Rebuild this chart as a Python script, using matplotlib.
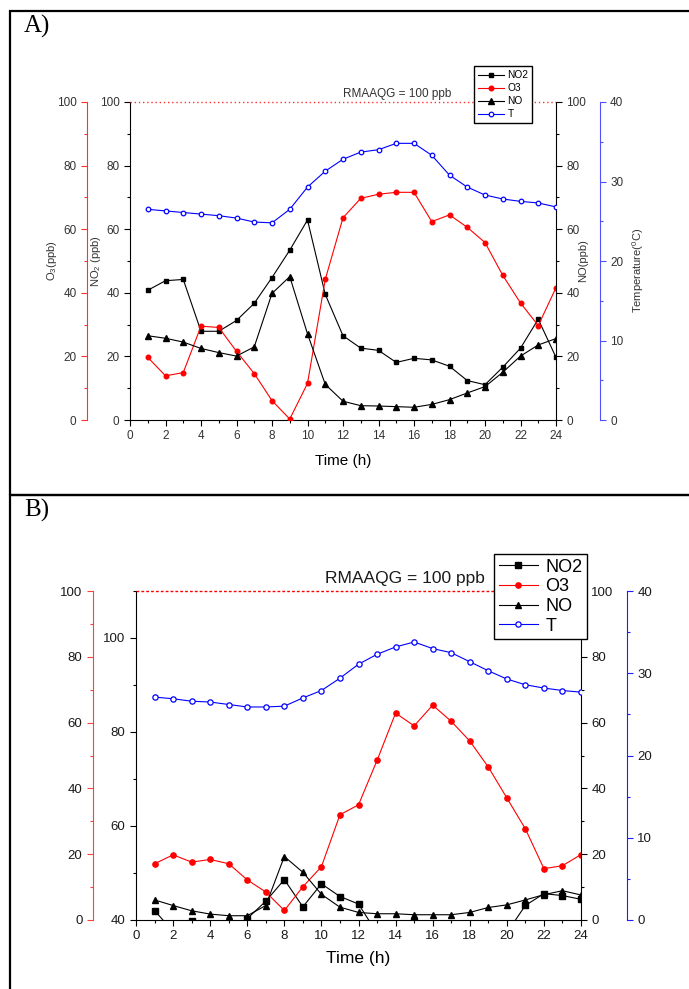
import matplotlib
matplotlib.use("Agg")
import matplotlib.pyplot as plt
from matplotlib.patches import Rectangle
from matplotlib.ticker import MultipleLocator

plt.rcParams['font.family'] = ['Liberation Sans', 'DejaVu Sans']
plt.rcParams['mathtext.default'] = 'regular'

hours = list(range(1, 25))

# panel A (ppb, degC)
no2_a = [40.8, 43.8, 44.2, 27.9, 27.9, 31.3, 36.7, 44.8, 53.4, 62.9, 39.5, 26.5,
         22.6, 21.9, 18.1, 19.4, 18.9, 16.9, 12.4, 11.1, 16.6, 22.6, 31.7, 19.7]
o3_a = [19.7, 13.9, 14.9, 29.5, 29.1, 21.6, 14.6, 6.1, 0.3, 11.5, 44.2, 63.6,
        69.7, 71.0, 71.6, 71.6, 62.4, 64.5, 60.6, 55.8, 45.5, 36.8, 29.7, 41.6]
no_a = [26.5, 25.7, 24.5, 22.5, 21.2, 20.1, 23.0, 39.8, 45.1, 27.1, 11.2, 5.9,
        4.5, 4.4, 4.2, 4.0, 4.9, 6.4, 8.5, 10.5, 15.0, 20.1, 23.6, 25.6]
t_a = [26.5, 26.3, 26.1, 25.9, 25.7, 25.4, 24.9, 24.8, 26.5, 29.3, 31.3, 32.8,
       33.7, 34.0, 34.8, 34.8, 33.3, 30.8, 29.3, 28.3, 27.8, 27.5, 27.3, 26.8]

# panel B
no2_b = [42.0, 37.6, 39.7, 37.0, 36.5, 40.3, 44.0, 48.6, 42.8, 47.7, 45.0, 43.4,
         37.2, 37.0, 39.7, 38.0, 37.5, 37.0, 36.5, 37.3, 43.1, 45.6, 45.2, 44.4]
o3_b = [17.1, 19.8, 17.6, 18.4, 17.1, 12.2, 8.5, 2.9, 10.1, 16.2, 32.0, 35.0,
        48.5, 62.9, 59.0, 65.3, 60.4, 54.4, 46.5, 37.1, 27.7, 15.6, 16.5, 19.9]
no_b = [6.1, 4.4, 2.8, 1.8, 1.3, 1.3, 4.4, 19.3, 14.5, 7.8, 3.9, 2.3,
        1.9, 1.9, 1.6, 1.6, 1.6, 2.3, 3.8, 4.6, 6.1, 7.7, 8.9, 7.6]
t_b = [27.1, 26.9, 26.6, 26.5, 26.2, 25.9, 25.9, 26.0, 27.0, 27.9, 29.4, 31.1,
       32.3, 33.2, 33.8, 33.0, 32.5, 31.4, 30.3, 29.3, 28.6, 28.2, 27.9, 27.7]

series_names = ['NO2', 'O3', 'NO', 'T']
guideline = 'RMAAQG = 100 ppb'

W, H = 689, 989


def px_rect(x0, y0, x1, y1):
    return [x0 / W, 1 - y1 / H, (x1 - x0) / W, (y1 - y0) / H]


def style_y(a, major, minor, color, tcolor, fs):
    a.yaxis.set_major_locator(MultipleLocator(major))
    a.yaxis.set_minor_locator(MultipleLocator(minor))
    a.tick_params(axis='y', which='both', direction='out', colors=color, labelcolor=tcolor,
                  labelsize=fs, width=0.8)
    a.tick_params(axis='y', which='major', length=4)
    a.tick_params(axis='y', which='minor', length=2.5)


def panel(fig, rect, no2, o3, no, t, no2_lim, o3_off, t_off, fs, ms, tcolor, o3_col, t_col):
    ax = fig.add_axes(rect)
    ax_o3 = ax.twinx()
    ax_no = ax.twinx()
    ax_t = ax.twinx()

    ax.set_xlim(0, 24)
    ax.set_ylim(*no2_lim)
    ax_o3.set_ylim(0, 100)
    ax_no.set_ylim(0, 100)
    ax_t.set_ylim(0, 40)

    for a in (ax, ax_o3, ax_no, ax_t):
        for sp in a.spines.values():
            sp.set_visible(False)
    ax.spines['left'].set_visible(True)
    ax.spines['bottom'].set_visible(True)

    ax_o3.yaxis.tick_left()
    ax_o3.yaxis.set_label_position('left')
    ax_o3.spines['left'].set_visible(True)
    ax_o3.spines['left'].set_position(('outward', o3_off))
    ax_o3.spines['left'].set_color(o3_col)

    ax_no.spines['right'].set_visible(True)

    ax_t.spines['right'].set_visible(True)
    ax_t.spines['right'].set_position(('outward', t_off))
    ax_t.spines['right'].set_color(t_col)

    ax.xaxis.set_major_locator(MultipleLocator(2))
    ax.xaxis.set_minor_locator(MultipleLocator(1))
    ax.tick_params(axis='x', which='both', direction='out', labelsize=fs, labelcolor=tcolor, width=0.8)
    ax.tick_params(axis='x', which='major', length=4)
    ax.tick_params(axis='x', which='minor', length=2.5)

    style_y(ax, 20, 10, 'black', tcolor, fs)
    style_y(ax_o3, 20, 10, o3_col, tcolor, fs)
    style_y(ax_no, 20, 10, 'black', tcolor, fs)
    style_y(ax_t, 10, 5, t_col, tcolor, fs)

    l1, = ax.plot(hours, no2, color='black', lw=0.8, marker='s', ms=ms)
    l2, = ax_o3.plot(hours, o3, color='red', lw=0.8, marker='o', ms=ms)
    l3, = ax_no.plot(hours, no, color='black', lw=0.8, marker='^', ms=ms + 0.5)
    l4, = ax_t.plot(hours, t, color='blue', lw=0.8, marker='o', ms=ms, mfc='white', mew=0.9)

    return ax, ax_o3, ax_no, ax_t, [l1, l2, l3, l4]


fig = plt.figure(figsize=(W / 100, H / 100), dpi=100)

# frames around the two panels
fig.add_artist(Rectangle((10 / W, 1 - 495 / H), 1, 484 / H, transform=fig.transFigure,
                         fill=False, lw=1.6, ec='black'))
fig.add_artist(Rectangle((10 / W, -0.05), 1, 0.05 + (1 - 495 / H), transform=fig.transFigure,
                         fill=False, lw=1.6, ec='black'))

# ---- panel A
ax, ax_o3, ax_no, ax_t, lines = panel(fig, px_rect(130, 102, 556, 420), no2_a, o3_a, no_a, t_a,
                                      (0, 100), 31, 31.5, 8.5, 3.3, '#333333', '#ff3030', '#5050ff')
ax_o3.axhline(100, color='#ff3030', lw=1.0, ls=(0, (1, 2)), clip_on=False)
ax.set_xlabel('Time (h)', fontsize=11, labelpad=8)
ax_o3.set_ylabel('O$_3$(ppb)', fontsize=8, color='#333333')
ax_o3.yaxis.set_label_coords(-0.167, 0.5)
ax.set_ylabel('NO$_2$ (ppb)', fontsize=8, color='#333333')
ax.yaxis.set_label_coords(-0.063, 0.5)
ax_no.set_ylabel('NO(ppb)', fontsize=8, color='#333333')
ax_no.yaxis.set_label_coords(1.052, 0.5)
ax_t.set_ylabel('Temperature($^0$C)', fontsize=8, color='#333333')
ax_t.yaxis.set_label_coords(1.174, 0.47)
fig.text(397 / W, 1 - 94 / H, guideline, fontsize=8.5, color='#333333', ha='center', va='center')
fig.text(24 / W, 1 - 15 / H, 'A)', family='Liberation Serif', fontsize=18, va='top')
leg = fig.legend(lines, series_names, loc='upper left', bbox_to_anchor=(474 / W, 1 - 66 / H),
                 borderaxespad=0, fontsize=7.3, handlelength=2.6, handletextpad=0.3,
                 labelspacing=0.3, borderpad=0.4, fancybox=False, edgecolor='black', framealpha=1)
leg.get_frame().set_linewidth(1.0)

# ---- panel B
ax, ax_o3, ax_no, ax_t, lines = panel(fig, px_rect(136, 591, 581, 920), no2_b, o3_b, no_b, t_b,
                                      (40, 110), 31, 33, 9.5, 3.8, '#1a1a1a', '#ff4040', '#2020ff')
ax_o3.axhline(100, color='red', lw=1.0, ls=(0, (2, 1.5)), clip_on=False)
ax.set_xlabel('Time (h)', fontsize=12.5, labelpad=6)
fig.text(405 / W, 1 - 579 / H, guideline, fontsize=12.5, color='#1a1a1a', ha='center', va='center')
fig.text(24 / W, 1 - 499 / H, 'B)', family='Liberation Serif', fontsize=18, va='top')
leg = fig.legend(lines, series_names, loc='upper left', bbox_to_anchor=(494 / W, 1 - 554 / H),
                 borderaxespad=0, fontsize=13, handlelength=2.2, handletextpad=0.4,
                 labelspacing=0.15, borderpad=0.25, fancybox=False, edgecolor='black', framealpha=1)
leg.get_frame().set_linewidth(1.0)

fig.savefig('out.png', dpi=100)
